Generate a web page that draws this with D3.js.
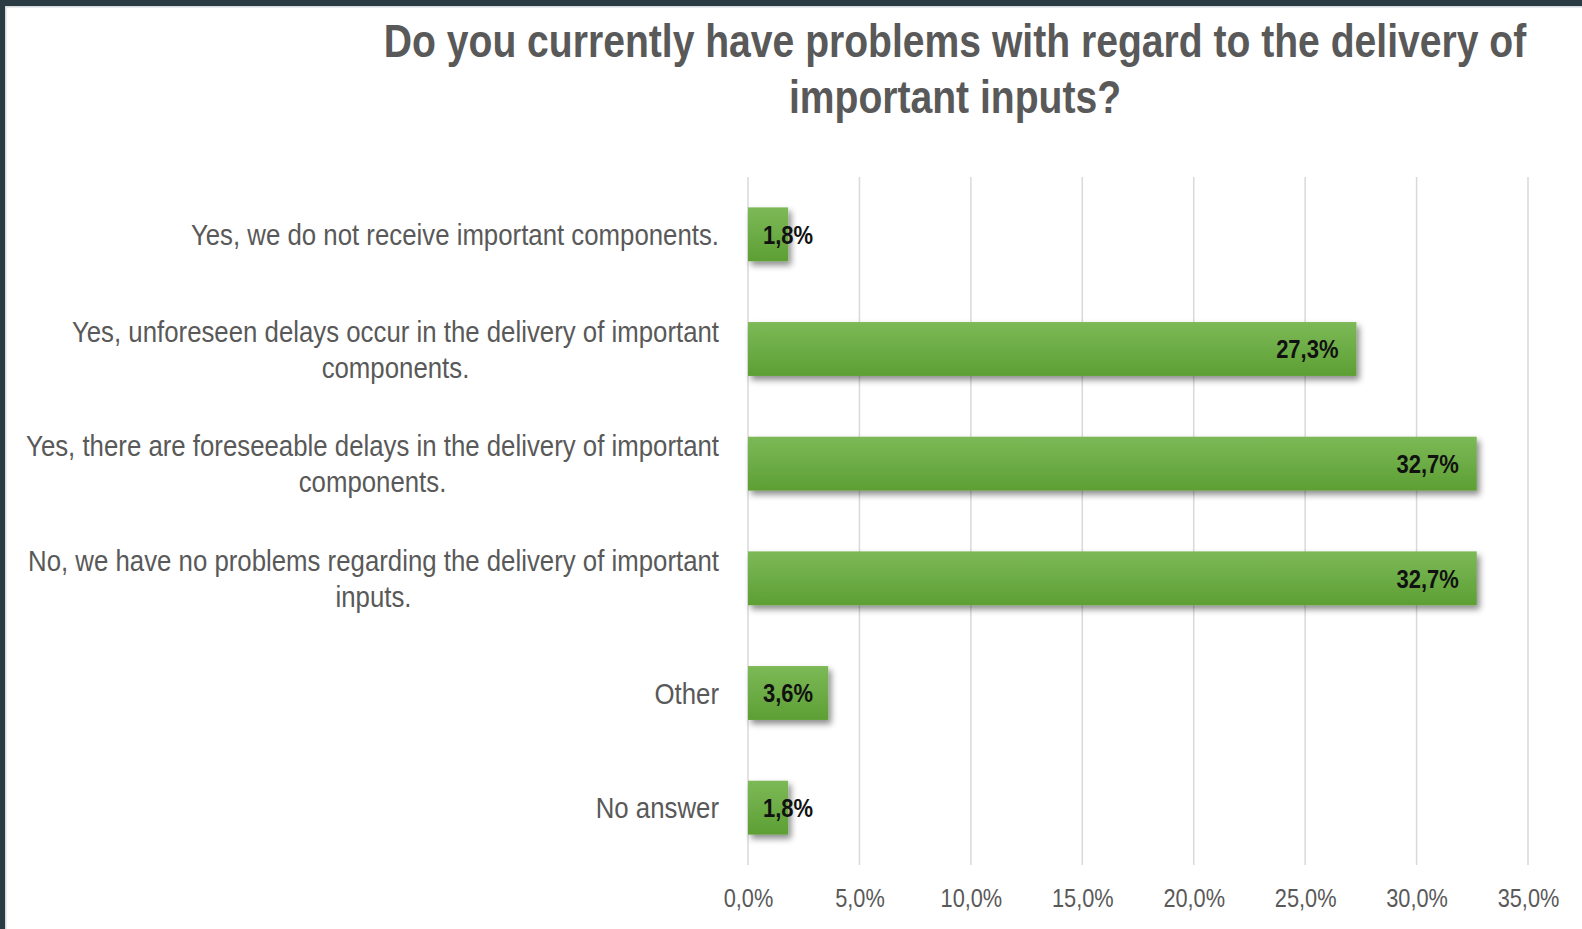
<!DOCTYPE html>
<html>
<head>
<meta charset="utf-8">
<script src="https://cdn.jsdelivr.net/npm/d3@7"></script>
<style>
  html, body { margin: 0; padding: 0; background: #ffffff; }
  svg { display: block; }
</style>
</head>
<body>
<svg id="chart" width="1582" height="929"></svg>
<script>
// Survey answers and their shares (percent of respondents)
const titleLines = [
  "Do you currently have problems with regard to the delivery of",
  "important inputs?"
];
const categories = [
  "Yes, we do not receive important components.",
  "Yes, unforeseen delays occur in the delivery of important components.",
  "Yes, there are foreseeable delays in the delivery of important components.",
  "No, we have no problems regarding the delivery of important inputs.",
  "Other",
  "No answer"
];
const shares = [1.8, 27.3, 32.7, 32.7, 3.6, 1.8];
const xTicks = [0, 5, 10, 15, 20, 25, 30, 35];

const W = 1582, H = 929;
// Narrow face: Arial-metric sans squeezed horizontally
const font = "'Liberation Sans', Arial, Helvetica, sans-serif";
const textGrey = "#595959";

// German-style decimal comma
const locale = d3.formatLocale({ decimal: ",", thousands: ".", grouping: [3], currency: ["", " €"] });
const pct = locale.format(".1%");

const svg = d3.select("#chart");

// Frame: dark edge on top and left with a thin light inner line
svg.append("rect").attr("x", 0).attr("y", 0).attr("width", W).attr("height", H).attr("fill", "#ffffff");
svg.append("rect").attr("x", 0).attr("y", 0).attr("width", W).attr("height", 6).attr("fill", "#2b3b44");
svg.append("rect").attr("x", 0).attr("y", 0).attr("width", 5).attr("height", H).attr("fill", "#2b3b44");
svg.append("rect").attr("x", 5).attr("y", 6).attr("width", W - 5).attr("height", 1.5).attr("fill", "#d6d9db");
svg.append("rect").attr("x", 5).attr("y", 6).attr("width", 1.5).attr("height", H - 6).attr("fill", "#d6d9db");

const defs = svg.append("defs");
const grad = defs.append("linearGradient").attr("id", "barFill")
  .attr("x1", 0).attr("y1", 0).attr("x2", 0).attr("y2", 1);
grad.append("stop").attr("offset", "0%").attr("stop-color", "#7cb957");
grad.append("stop").attr("offset", "100%").attr("stop-color", "#5d9f34");

const shadow = defs.append("filter").attr("id", "barShadow")
  .attr("x", "-10%").attr("y", "-30%").attr("width", "130%").attr("height", "180%");
shadow.append("feDropShadow").attr("dx", 3).attr("dy", 4).attr("stdDeviation", 3)
  .attr("flood-color", "#000").attr("flood-opacity", 0.45);

// Place a horizontally squeezed text at (px, py)
function squeezed(parent, px, py, sq) {
  return parent.append("g")
    .attr("transform", `translate(${px},${py}) scale(${sq},1)`)
    .append("text")
    .attr("font-family", font);
}

// Scales
const x = d3.scaleLinear().domain([0, 35]).range([748, 1528]);
const y = d3.scaleBand().domain(categories).range([177, 865])
  .paddingInner(0.53).paddingOuter(0.265);

// Title
const titleG = svg.append("g");
titleLines.forEach((line, i) => {
  squeezed(titleG, 955, 40.5 + i * 55.5, 0.85)
    .attr("dy", "0.36em")
    .attr("text-anchor", "middle")
    .attr("font-weight", "bold").attr("font-size", 46)
    .attr("fill", textGrey)
    .text(line);
});

// Vertical gridlines
svg.append("g").selectAll("line").data(xTicks).join("line")
  .attr("x1", d => x(d)).attr("x2", d => x(d))
  .attr("y1", 177).attr("y2", 865)
  .attr("stroke", "#d9d9d9").attr("stroke-width", 1.5);

// x axis labels
const xAxis = svg.append("g").attr("transform", "translate(0,865)")
  .call(d3.axisBottom(x).tickValues(xTicks).tickSize(0).tickPadding(24).tickFormat(d => pct(d / 100)));
xAxis.select(".domain").remove();
xAxis.selectAll("text")
  .attr("font-family", font).attr("font-size", 25).attr("fill", textGrey)
  .attr("transform", "scale(0.87,1)");

// Bars
svg.append("g").selectAll("rect").data(shares).join("rect")
  .attr("x", x(0))
  .attr("y", (d, i) => y(categories[i]))
  .attr("width", d => x(d) - x(0))
  .attr("height", y.bandwidth())
  .attr("fill", "url(#barFill)")
  .attr("filter", "url(#barShadow)");

// Value labels, inside the bar end (kept clear of the axis for short bars)
const valG = svg.append("g");
shares.forEach((v, i) => {
  squeezed(valG, Math.max(x(v) - 18, x(0) + 65), y(categories[i]) + y.bandwidth() / 2, 0.845)
    .attr("dy", "0.36em")
    .attr("text-anchor", "end")
    .attr("font-weight", "bold").attr("font-size", 26)
    .attr("fill", "#111111")
    .text(pct(v / 100));
});

// Category labels: wrapped, block right-aligned, lines centred within the block
const catSize = 30, catSq = 0.86, lineH = 36, wrapW = 700, labelRight = 719;
const catG = svg.append("g");
categories.forEach((cat) => {
  const cy = y(cat) + y.bandwidth() / 2;
  const t = squeezed(catG, 0, 0, catSq)
    .attr("font-size", catSize).attr("fill", textGrey)
    .attr("text-anchor", "middle");
  const words = cat.split(" ");
  const lines = [];
  let cur = [];
  const probe = t.append("tspan");
  const len = s => { probe.text(s); return probe.node().getComputedTextLength() * catSq; };
  words.forEach(w => {
    const trial = cur.concat([w]).join(" ");
    if (len(trial) > wrapW && cur.length) {
      lines.push(cur.join(" "));
      cur = [w];
    } else {
      cur.push(w);
    }
  });
  lines.push(cur.join(" "));
  const blockW = d3.max(lines, len);
  probe.remove();
  const cx = (labelRight - blockW / 2) / catSq;
  lines.forEach((l, j) => {
    t.append("tspan")
      .attr("x", cx)
      .attr("y", cy + (j - (lines.length - 1) / 2) * lineH)
      .attr("dy", "0.36em")
      .text(l);
  });
});
</script>
</body>
</html>
